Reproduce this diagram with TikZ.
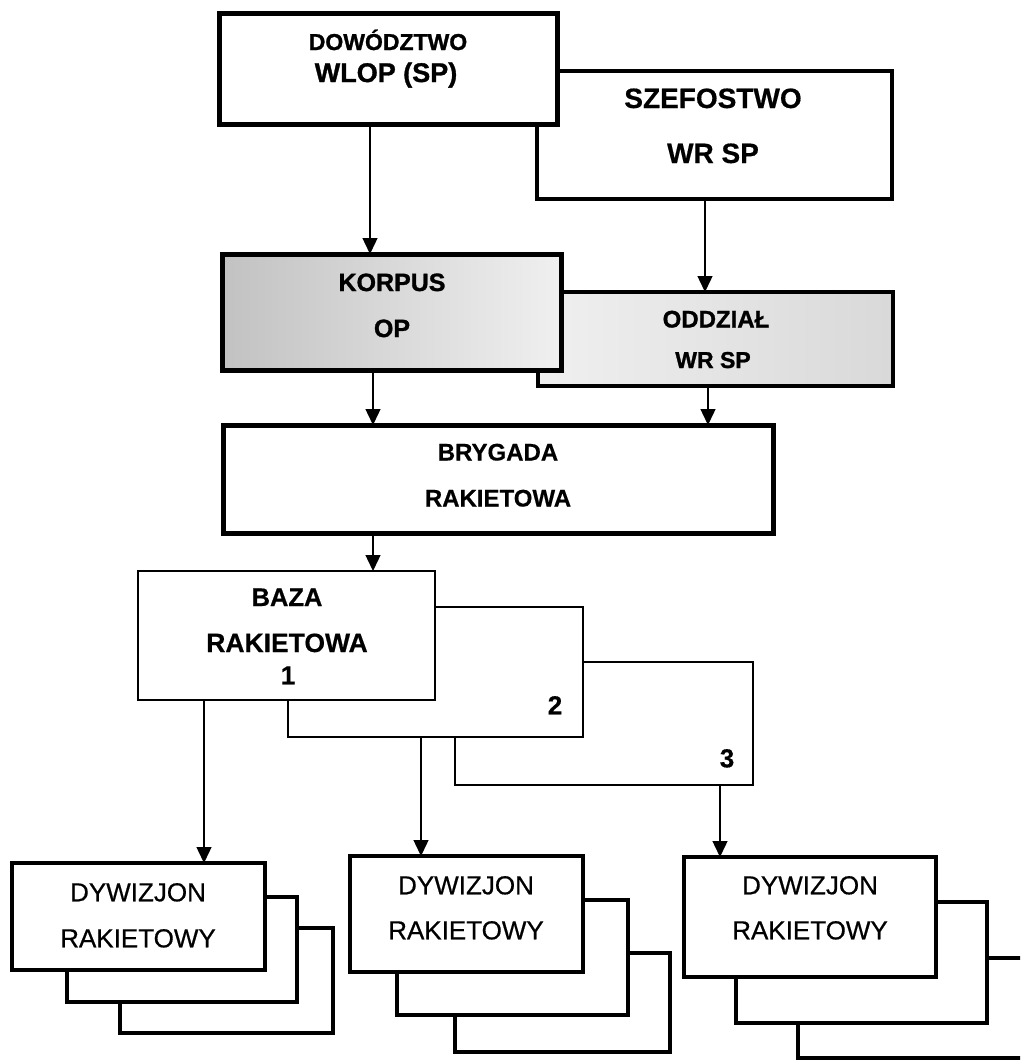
\documentclass[tikz,border=0pt]{standalone}
\usepackage{fontspec}
\setmainfont{Liberation Sans}
\newfontfamily\heavyfont{Liberation Sans Bold}[FakeBold=1.2]
\newfontfamily\boldfont{Liberation Sans Bold}[FakeBold=0.5]
\newfontfamily\scanfont{Liberation Sans}[FakeBold=0.6]
\usetikzlibrary{arrows.meta}
\tikzset{
  box/.style={draw=black, fill=white, rectangle, inner sep=0pt, outer sep=0pt},
  heavybox/.style={box, line width=5pt},
  midbox/.style={box, line width=4pt},
  thinbox/.style={box, line width=2.6pt},
  korfill/.style={left color=black!24, right color=black!6},
  oddfill/.style={left color=black!6, right color=black!15},
  arr/.style={line width=1.4pt, -{Triangle[width=15pt,length=16pt]}},
  bt/.style={anchor=base, inner sep=0pt, outer sep=0pt},
}
\newcommand\boxat[6]{%
  \node[#6, minimum width={(#4-#2)*1pt}, minimum height={(#5-#3)*1pt}] (#1) at ({(#2+#4)/2},{(#3+#5)/2}) {};}
\newcommand\lbl[5]{\node[bt, font=#5] (#1) at (#2,#3) {#4};}
\newcommand\fs[1]{\fontsize{#1}{#1}\selectfont}
\begin{document}
\begin{tikzpicture}[x=1pt,y=-1pt]
\path[use as bounding box, clip] (0,0) rectangle (1020,1060);
\fill[white] (0,0) rectangle (1020,1060);

% top level
\boxat{sze}{537}{71}{892}{199}{midbox}
\boxat{dow}{219}{13}{557}{124}{heavybox}
\lbl{dowA}{388}{50}{DOWÓDZTWO}{\heavyfont\fs{23}}
\lbl{dowB}{386}{82}{WLOP (SP)}{\heavyfont\fs{27}}
\lbl{szeA}{713}{108}{SZEFOSTWO}{\boldfont\fs{28}}
\lbl{szeB}{713}{163}{WR SP}{\boldfont\fs{28}}

% second level
\boxat{odd}{538}{292}{893}{386}{midbox, oddfill}
\boxat{kor}{222}{254}{561}{370}{heavybox, korfill}
\lbl{korA}{392}{291}{KORPUS}{\heavyfont\fs{25}}
\lbl{korB}{392}{337}{OP}{\heavyfont\fs{25}}
\lbl{oddA}{716}{327.5}{ODDZIAŁ}{\heavyfont\fs{24}}
\lbl{oddB}{713}{368}{WR SP}{\heavyfont\fs{23}}

% brigade
\boxat{bry}{223}{425}{773}{533}{heavybox}
\lbl{bryA}{498}{460.5}{BRYGADA}{\boldfont\fs{24}}
\lbl{bryB}{498}{506.5}{RAKIETOWA}{\boldfont\fs{24}}

% bases
\boxat{baz3}{455}{662}{753}{785}{thinbox}
\boxat{baz2}{288}{607}{583}{737}{thinbox}
\boxat{baz1}{138}{571}{435}{700}{thinbox}
\lbl{bazA}{287}{606}{BAZA}{\boldfont\fs{25.5}}
\lbl{bazB}{287}{652}{RAKIETOWA}{\boldfont\fs{26.5}}
\lbl{bazC}{288}{684.3}{1}{\boldfont\fs{26}}
\lbl{bazN2}{555}{714.3}{2}{\boldfont\fs{26}}
\lbl{bazN3}{727}{767.3}{3}{\boldfont\fs{26}}

% squadrons
\boxat{dyw1c}{120}{928}{333}{1033}{midbox}
\boxat{dyw1b}{67}{897}{297}{1002}{midbox}
\boxat{dyw1a}{12}{863}{265}{970}{midbox}
\lbl{dyw1A}{138}{901.3}{DYWIZJON}{\scanfont\fs{26}}
\lbl{dyw1B}{138}{947.3}{RAKIETOWY}{\scanfont\fs{26}}

\boxat{dyw2c}{455}{953}{670}{1052}{midbox}
\boxat{dyw2b}{397}{900}{628}{1015}{midbox}
\boxat{dyw2a}{350}{856}{583}{972}{midbox}
\lbl{dyw2A}{466}{894.3}{DYWIZJON}{\scanfont\fs{26}}
\lbl{dyw2B}{466}{939.3}{RAKIETOWY}{\scanfont\fs{26}}

\boxat{dyw3c}{798}{958}{1060}{1058}{midbox}
\boxat{dyw3b}{736}{902}{987}{1023}{midbox}
\boxat{dyw3a}{684}{857}{936}{977}{midbox}
\lbl{dyw3A}{810}{894.3}{DYWIZJON}{\scanfont\fs{26}}
\lbl{dyw3B}{810}{939.3}{RAKIETOWY}{\scanfont\fs{26}}

% connector x positions
\coordinate (xa) at (370,0);
\coordinate (xb) at (705,0);
\coordinate (xc) at (373,0);
\coordinate (xd) at (708,0);
\coordinate (xe) at (373,0);
\coordinate (xf) at (204,0);
\coordinate (xg) at (421,0);
\coordinate (xh) at (720,0);

\draw[arr] (dow.south -| xa) -- (kor.north -| xa);
\draw[arr] (sze.south -| xb) -- (odd.north -| xb);
\draw[arr] (kor.south -| xc) -- (bry.north -| xc);
\draw[arr] (odd.south -| xd) -- (bry.north -| xd);
\draw[arr] (bry.south -| xe) -- (baz1.north -| xe);
\draw[arr] (baz1.south -| xf) -- (dyw1a.north -| xf);
\draw[arr] (baz2.south -| xg) -- (dyw2a.north -| xg);
\draw[arr] (baz3.south -| xh) -- (dyw3a.north -| xh);
\end{tikzpicture}
\end{document}
